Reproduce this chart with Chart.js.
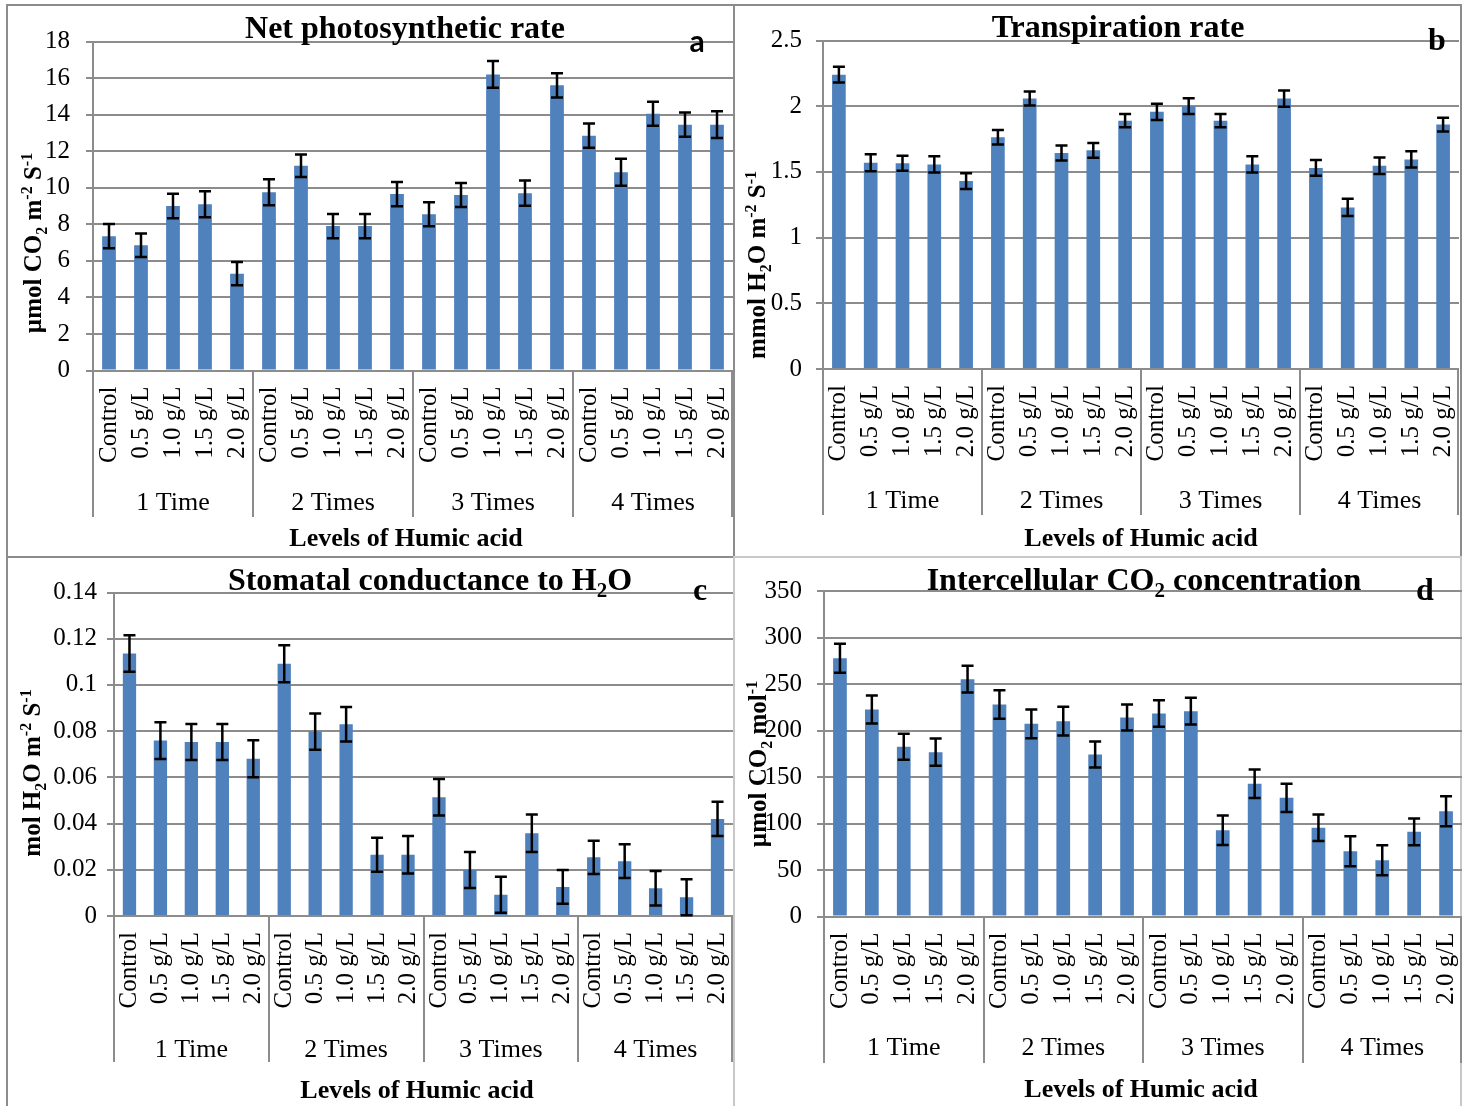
<!DOCTYPE html>
<html>
<head>
<meta charset="utf-8">
<script src="https://cdn.jsdelivr.net/npm/chart.js@4.4.1/dist/chart.umd.min.js"></script>
<style>
html, body { margin: 0; padding: 0; background: #fff; }
#page { position: relative; width: 1465px; height: 1106px; overflow: hidden; background: #fff; }
#page canvas { position: absolute; left: 0; top: 0; }
.box { position: absolute; border: 2.5px solid #8c8c8c; box-sizing: border-box; }
</style>
</head>
<body>
<div id="page">
  <div class="box" style="left:6px;top:4px;width:729px;height:554px"></div>
  <div class="box" style="left:733px;top:4px;width:729px;height:554px"></div>
  <div class="box" style="left:6px;top:556px;width:729px;height:560px"></div>
  <div class="box" style="left:733px;top:556px;width:729px;height:560px;border-color:#c8c8c8"></div>
  <canvas id="chartA" width="1465" height="1106"></canvas>
  <canvas id="chartB" width="1465" height="1106"></canvas>
  <canvas id="chartC" width="1465" height="1106"></canvas>
  <canvas id="chartD" width="1465" height="1106"></canvas>
</div>
<script>
// --------------------
// Data
// --------------------
const doseLabels = ["Control", "0.5 g/L", "1.0 g/L", "1.5 g/L", "2.0 g/L"];
const groupLabels = ["1 Time", "2 Times", "3 Times", "4 Times"];

// a: Net photosynthetic rate
const netPhoto    = [7.35, 6.85, 9.0, 9.1, 5.3, 9.75, 11.2, 7.9, 7.9, 9.65, 8.55, 9.6, 16.2, 9.7, 15.6, 12.85, 10.85, 14.05, 13.45, 13.45];
const netPhotoErr = [0.66, 0.64, 0.67, 0.71, 0.64, 0.71, 0.62, 0.66, 0.66, 0.66, 0.66, 0.66, 0.73, 0.69, 0.66, 0.66, 0.74, 0.66, 0.66, 0.73];
const ticksA = [0, 2, 4, 6, 8, 10, 12, 14, 16, 18];

// b: Transpiration rate
const transp    = [2.24, 1.57, 1.565, 1.557, 1.43, 1.763, 2.058, 1.643, 1.664, 1.89, 1.957, 2.0, 1.89, 1.557, 2.058, 1.53, 1.23, 1.547, 1.595, 1.86];
const transpErr = [0.06, 0.065, 0.057, 0.062, 0.06, 0.055, 0.053, 0.057, 0.056, 0.05, 0.062, 0.06, 0.05, 0.062, 0.062, 0.06, 0.065, 0.063, 0.062, 0.053];
const ticksB = [0, 0.5, 1, 1.5, 2, 2.5];

// c: Stomatal conductance to H2O
const stomatal    = [0.1136, 0.0759, 0.0753, 0.0753, 0.0681, 0.1092, 0.0798, 0.083, 0.0265, 0.0265, 0.0514, 0.0199, 0.0092, 0.0358, 0.0126, 0.0254, 0.0237, 0.012, 0.0081, 0.042];
const stomatalErr = [0.0079, 0.008, 0.0078, 0.0078, 0.008, 0.008, 0.0078, 0.0075, 0.0074, 0.0081, 0.0079, 0.0078, 0.0078, 0.0081, 0.0073, 0.0072, 0.0073, 0.0075, 0.0078, 0.0074];
const ticksC = [0, 0.02, 0.04, 0.06, 0.08, 0.1, 0.12, 0.14];

// d: Intercellular CO2 concentration
const interCO2    = [277.7, 222.6, 182.5, 176.7, 255.2, 228, 207.2, 210, 174.2, 214, 218.3, 220.8, 92.8, 142.7, 127.6, 95.4, 70.2, 60.5, 91, 113.2];
const interCO2Err = [15.5, 15, 14, 14.7, 14.3, 15.3, 15.4, 15.5, 14, 14, 14.3, 14.4, 15.8, 15.3, 15.1, 14.3, 16.1, 16.2, 14.4, 16.2];
const ticksD = [0, 50, 100, 150, 200, 250, 300, 350];

const categories = groupLabels.flatMap(() => doseLabels);

const SERIF = '"Liberation Serif", "Times New Roman", serif';
const BAR_BLUE = '#4f81bd';
const GRID_GRAY = '#8c8c8c';
const PAGE_W = 1465, PAGE_H = 1106;
const Y_BOX = 60, X_BOX = 140;

// --------------------
// Panel layout
// --------------------
const panels = [
  {
    id: 'chartA', values: netPhoto, errors: netPhotoErr, ticks: ticksA,
    area: { left: 93, right: 733, top: 41.5, bottom: 370.5 }, tickPad: 16,
    title: [["Net photosynthetic rate"]], titleX: 405, titleY: 38,
    letter: 'a', letterFont: 'bold 30px Lato, "Open Sans", sans-serif', letterX: 697, letterY: 52,
    yTitle: [["µmol CO"], ["2", "sub"], [" m"], ["-2", "sup"], [" S"], ["-1", "sup"]], yTitleX: 32, yTitleY: 243,
    groupY: 510, sepEnd: 517, xTitleX: 406, xTitleY: 546
  },
  {
    id: 'chartB', values: transp, errors: transpErr, ticks: ticksB,
    area: { left: 823, right: 1459, top: 40.5, bottom: 369 }, tickPad: 14,
    title: [["Transpiration rate"]], titleX: 1118, titleY: 37,
    letter: 'b', letterFont: 'bold 32px ' + SERIF, letterX: 1437, letterY: 50,
    yTitle: [["mmol H"], ["2", "sub"], ["O m"], ["-2", "sup"], [" S"], ["-1", "sup"]], yTitleX: 756, yTitleY: 265,
    groupY: 508, sepEnd: 515, xTitleX: 1141, xTitleY: 546
  },
  {
    id: 'chartC', values: stomatal, errors: stomatalErr, ticks: ticksC,
    area: { left: 114, right: 733, top: 592.5, bottom: 916 }, tickPad: 10,
    title: [["Stomatal conductance to H"], ["2", "sub"], ["O"]], titleX: 430, titleY: 590,
    letter: 'c', letterFont: 'bold 32px ' + SERIF, letterX: 700, letterY: 600,
    yTitle: [["mol H"], ["2", "sub"], ["O m"], ["-2", "sup"], [" S"], ["-1", "sup"]], yTitleX: 31, yTitleY: 773,
    groupY: 1057, sepEnd: 1062, xTitleX: 417, xTitleY: 1098
  },
  {
    id: 'chartD', values: interCO2, errors: interCO2Err, ticks: ticksD,
    area: { left: 824, right: 1462, top: 591, bottom: 916.5 }, tickPad: 15,
    title: [["Intercellular CO"], ["2", "sub"], [" concentration"]], titleX: 1144, titleY: 590,
    letter: 'd', letterFont: 'bold 32px ' + SERIF, letterX: 1425, letterY: 600,
    yTitle: [["µmol CO"], ["2", "sub"], [" mol"], ["-1", "sup"]], yTitleX: 757, yTitleY: 764,
    groupY: 1055, sepEnd: 1063, xTitleX: 1141, xTitleY: 1097
  }
];

// draw text with sub/superscripts, centred on x, baseline at y
function drawRich(ctx, parts, x, y, size, weight, rotation) {
  ctx.save();
  ctx.translate(x, y);
  if (rotation) ctx.rotate(rotation);
  ctx.fillStyle = '#000';
  ctx.textBaseline = 'alphabetic';
  ctx.textAlign = 'left';
  const fontFor = mode => `${weight} ${mode ? Math.round(size * 0.65) : size}px ${SERIF}`;
  let total = 0;
  parts.forEach(([t, mode]) => { ctx.font = fontFor(mode); total += ctx.measureText(t).width; });
  let cx = -total / 2;
  parts.forEach(([t, mode]) => {
    ctx.font = fontFor(mode);
    const dy = mode === 'sub' ? size * 0.22 : mode === 'sup' ? -size * 0.38 : 0;
    ctx.fillText(t, cx, dy);
    cx += ctx.measureText(t).width;
  });
  ctx.restore();
}

const errorBars = {
  id: 'errorBars',
  afterDatasetsDraw(chart, args, opts) {
    const { ctx } = chart;
    const ys = chart.scales.y;
    const meta = chart.getDatasetMeta(0);
    ctx.save();
    ctx.strokeStyle = '#000';
    ctx.lineWidth = 2.5;
    meta.data.forEach((bar, i) => {
      const v = opts.values[i], e = opts.errors[i];
      const yTop = ys.getPixelForValue(v + e);
      const yBot = ys.getPixelForValue(Math.max(0, v - e));
      ctx.beginPath();
      ctx.moveTo(bar.x, yTop); ctx.lineTo(bar.x, yBot);
      ctx.moveTo(bar.x - 6, yTop); ctx.lineTo(bar.x + 6, yTop);
      ctx.moveTo(bar.x - 6, yBot); ctx.lineTo(bar.x + 6, yBot);
      ctx.stroke();
    });
    ctx.restore();
  }
};

const panelDecor = {
  id: 'panelDecor',
  afterDraw(chart, args, p) {
    const { ctx, chartArea } = chart;
    const xs = chart.scales.x;
    const step = xs.getPixelForValue(1) - xs.getPixelForValue(0);

    // title and panel letter
    drawRich(ctx, p.title, p.titleX, p.titleY, 32, 'bold', 0);
    ctx.save();
    ctx.fillStyle = '#000';
    ctx.font = p.letterFont;
    ctx.textAlign = 'center';
    ctx.textBaseline = 'alphabetic';
    ctx.fillText(p.letter, p.letterX, p.letterY);
    ctx.restore();

    // y axis title
    drawRich(ctx, p.yTitle, p.yTitleX + 9, p.yTitleY, 25, 'bold', -Math.PI / 2);

    // group separators + labels
    ctx.save();
    ctx.strokeStyle = GRID_GRAY;
    ctx.lineWidth = 2;
    ctx.fillStyle = '#000';
    ctx.font = `26px ${SERIF}`;
    ctx.textAlign = 'center';
    ctx.textBaseline = 'alphabetic';
    groupLabels.forEach((g, gi) => {
      const first = gi * doseLabels.length;
      const last = first + doseLabels.length - 1;
      const x0 = xs.getPixelForValue(first) - step / 2;
      const x1 = xs.getPixelForValue(last) + step / 2;
      ctx.beginPath();
      ctx.moveTo(Math.round(x0), chartArea.bottom);
      ctx.lineTo(Math.round(x0), p.sepEnd);
      if (gi === groupLabels.length - 1) {
        ctx.moveTo(Math.round(x1) - 1, chartArea.bottom);
        ctx.lineTo(Math.round(x1) - 1, p.sepEnd);
      }
      ctx.stroke();
      ctx.fillText(g, (x0 + x1) / 2, p.groupY);
    });
    ctx.restore();

    // x axis title
    drawRich(ctx, [["Levels of Humic acid"]], p.xTitleX, p.xTitleY, 26, 'bold', 0);
  }
};

panels.forEach(p => {
  const a = p.area;
  new Chart(document.getElementById(p.id), {
    type: 'bar',
    data: {
      labels: categories,
      datasets: [{
        data: p.values,
        backgroundColor: BAR_BLUE,
        borderWidth: 0,
        barPercentage: 0.43,
        categoryPercentage: 1
      }]
    },
    options: {
      responsive: false,
      animation: false,
      devicePixelRatio: 1,
      events: [],
      layout: {
        padding: {
          left: a.left - Y_BOX,
          right: PAGE_W - a.right,
          top: a.top,
          bottom: PAGE_H - a.bottom - X_BOX
        }
      },
      plugins: {
        legend: { display: false },
        tooltip: { enabled: false },
        errorBars: { values: p.values, errors: p.errors },
        panelDecor: p
      },
      scales: {
        x: {
          grid: { display: false, drawTicks: false },
          border: { display: false },
          ticks: {
            autoSkip: false, minRotation: 90, maxRotation: 90, padding: 16,
            color: '#000', font: { family: SERIF, size: 25 }
          },
          afterFit: s => { s.height = X_BOX; s.paddingLeft = 0; s.paddingRight = 0; }
        },
        y: {
          min: 0,
          max: p.ticks[p.ticks.length - 1],
          afterBuildTicks: s => { s.ticks = p.ticks.map(v => ({ value: v })); },
          ticks: {
            padding: p.tickPad, color: '#000',
            font: { family: SERIF, size: 25 },
            callback: v => String(v)
          },
          grid: { color: GRID_GRAY, lineWidth: 2, tickLength: 7 },
          border: { color: GRID_GRAY, width: 2 },
          afterFit: s => { s.width = Y_BOX; s.paddingTop = 0; s.paddingBottom = 0; }
        }
      }
    },
    plugins: [errorBars, panelDecor]
  });
});
</script>
</body>
</html>
